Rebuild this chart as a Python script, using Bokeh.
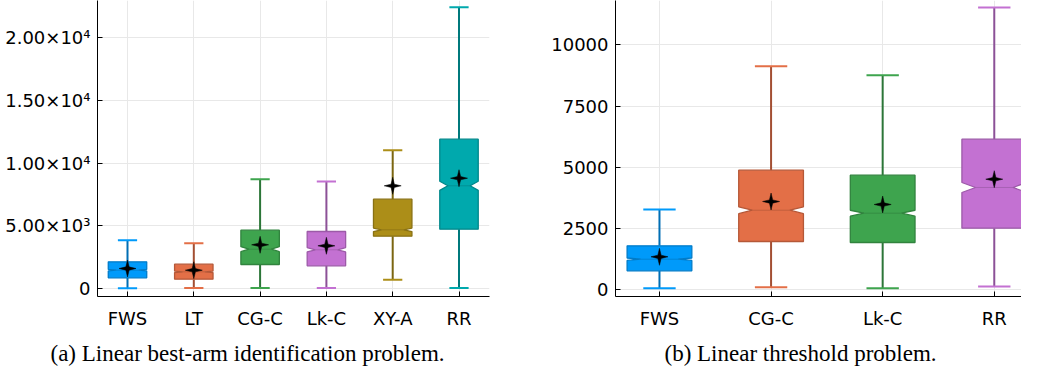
import numpy as np
from bokeh.plotting import figure
from bokeh.layouts import row
from bokeh.models import Range1d, FixedTicker, Title
from bokeh.embed import file_html
from bokeh.resources import INLINE

# ---------------- (a) Linear best-arm identification ----------------
cats_a = ["FWS", "LT", "CG-C", "Lk-C", "XY-A", "RR"]
lo_a = [25, 40, 50, 50, 693, 50]
q1_a = [852, 741, 1912, 1808, 4170, 4725]
med_a = [1458, 1330, 3131, 3084, 4677, 8183]
q3_a = [2127, 1936, 4645, 4542, 7116, 11896]
hi_a = [3850, 3610, 8710, 8526, 11020, 22414]
mean_a = [1594, 1458, 3482, 3402, 8183, 8789]
notch_a = [60, 60, 200, 175, 140, 360]
colors_a = ["#009AFA", "#E36F47", "#3EA44E", "#C371D2", "#AC8E18", "#00A9AD"]
yticks_a = [0, 5000, 10000, 15000, 20000]
ylabels_a = ["0", "5.00×10³", "1.00×10⁴", "1.50×10⁴", "2.00×10⁴"]
caption_a = "(a) Linear best-arm identification problem."

# ---------------- (b) Linear threshold ----------------
cats_b = ["FWS", "CG-C", "Lk-C", "RR"]
lo_b = [65, 106, 65, 135]
q1_b = [776, 1972, 1931, 2515]
med_b = [1249, 3249, 3127, 4176]
q3_b = [1796, 4882, 4678, 6148]
hi_b = [3278, 9128, 8760, 11523]
mean_b = [1347, 3604, 3482, 4515]
notch_b = [50, 140, 120, 204]
colors_b = ["#009AFA", "#E36F47", "#3EA44E", "#C371D2"]
yticks_b = [0, 2500, 5000, 7500, 10000]
ylabels_b = ["0", "2500", "5000", "7500", "10000"]
caption_b = "(b) Linear threshold problem."


def shade(hexc, f):
    r, g, b = int(hexc[1:3], 16), int(hexc[3:5], 16), int(hexc[5:7], 16)
    return "#%02x%02x%02x" % (int(r * f), int(g * f), int(b * f))


def make_panel(cats, lo, q1, med, q3, hi, mean, notch, colors, yticks, ylabels,
               x_rng, y_rng, fw, fh, bl, br, caption, cap_off):
    p = figure(frame_width=fw, frame_height=fh,
               x_range=Range1d(*x_rng), y_range=Range1d(*y_rng),
               output_backend="svg", toolbar_location=None,
               min_border_left=bl, min_border_right=br,
               min_border_top=0, min_border_bottom=63)
    p.outline_line_color = None
    p.background_fill_color = "white"
    p.border_fill_color = "white"

    xs = np.arange(len(cats)) + 0.5
    bw = 0.58
    cw = 0.29
    inset = 0.21 * bw
    lo, q1, med, q3, hi, mean, notch = map(np.asarray, (lo, q1, med, q3, hi, mean, notch))
    stem_cols = [shade(c, 0.72) for c in colors]
    edge_cols = [shade(c, 0.8) for c in colors]

    # whiskers
    p.segment(x0=xs, y0=lo, x1=xs, y1=q1, line_color=stem_cols, line_width=2)
    p.segment(x0=xs, y0=q3, x1=xs, y1=hi, line_color=stem_cols, line_width=2)
    p.segment(x0=xs - cw / 2, y0=hi, x1=xs + cw / 2, y1=hi, line_color=colors, line_width=2)
    p.segment(x0=xs - cw / 2, y0=lo, x1=xs + cw / 2, y1=lo, line_color=colors, line_width=2)

    # notched boxes
    bxs, bys = [], []
    for c, a, m, b, n in zip(xs, q1, med, q3, notch):
        l, r = c - bw / 2, c + bw / 2
        bxs.append([l, l, l + inset, l, l, r, r, r - inset, r, r])
        bys.append([a, m - n, m, m + n, b, b, m + n, m, m - n, a])
    p.patches(xs=bxs, ys=bys, fill_color=colors, line_color=edge_cols, line_width=1.3)
    p.segment(x0=xs - bw / 2 + inset, y0=med, x1=xs + bw / 2 - inset, y1=med,
              line_color=edge_cols, line_alpha=0.7, line_width=1)

    # mean markers (4-pointed stars)
    sx = fw / (x_rng[1] - x_rng[0])
    sy = fh / (y_rng[1] - y_rng[0])
    ang = np.pi / 2 + np.arange(8) * np.pi / 4
    rad = np.where(np.arange(8) % 2 == 0, 8.5, 2.3)
    sxs = [list(c + rad * np.cos(ang) / sx) for c in xs]
    sys = [list(m + rad * np.sin(ang) / sy) for m in mean]
    p.patches(xs=sxs, ys=sys, fill_color="black", line_color="black", line_width=0.5)

    # axes
    p.xaxis.ticker = FixedTicker(ticks=list(xs))
    p.xaxis.major_label_overrides = {float(x): c for x, c in zip(xs, cats)}
    p.yaxis.ticker = FixedTicker(ticks=yticks)
    p.yaxis.major_label_overrides = {t: s for t, s in zip(yticks, ylabels)}
    for ax in (p.xaxis, p.yaxis):
        ax.major_label_text_font = "DejaVu Sans"
        ax.major_label_text_font_size = "18px"
        ax.major_label_text_color = "black"
        ax.axis_line_color = "black"
        ax.axis_line_width = 1
        ax.major_tick_in = 5
        ax.major_tick_out = 0
        ax.major_tick_line_color = "black"
        ax.minor_tick_line_color = None
    p.xaxis.major_label_standoff = 11
    p.yaxis.major_label_standoff = 7
    p.xgrid.grid_line_color = "#e8e8e8"
    p.ygrid.grid_line_color = "#e8e8e8"

    p.add_layout(Title(text=caption, align="left", offset=cap_off, standoff=15,
                       text_font="Liberation Serif", text_font_size="23px",
                       text_font_style="normal", text_color="black"), "below")
    return p


p1 = make_panel(cats_a, lo_a, q1_a, med_a, q3_a, hi_a, mean_a, notch_a, colors_a,
                yticks_a, ylabels_a, (0.0475, 5.96), (-637, 22948), 392, 296, 97, 51,
                caption_a, -47)
p2 = make_panel(cats_b, lo_b, q1_b, med_b, q3_b, hi_b, mean_b, notch_b, colors_b,
                yticks_b, ylabels_b, (0.106, 3.744), (-273, 11808), 406, 296, 75, 0,
                caption_b, 49)

layout = row(p1, p2)
open("out.html", "w").write(file_html(layout, INLINE))
